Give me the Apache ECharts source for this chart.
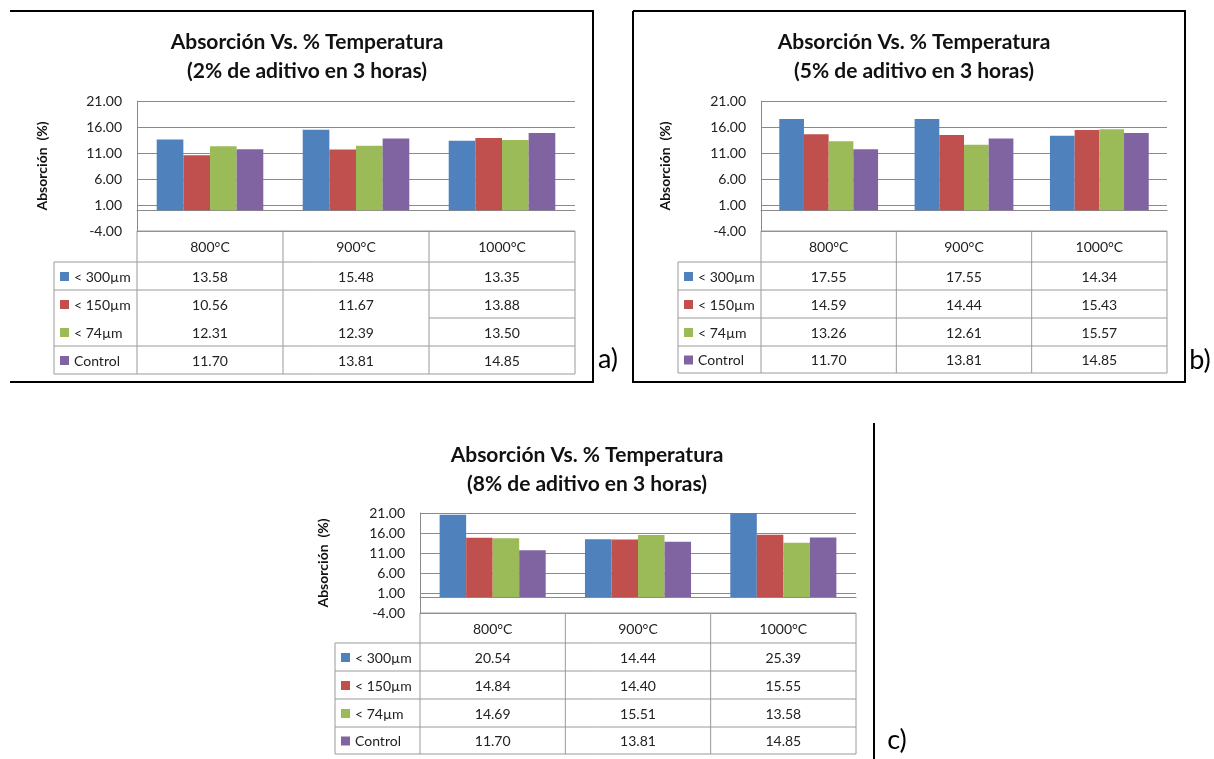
<!DOCTYPE html>
<html><head><meta charset="utf-8">
<script src="https://cdn.jsdelivr.net/npm/echarts@6/dist/echarts.min.js"></script>
<style>html,body{margin:0;padding:0;background:#fff}#c{width:1214px;height:759px}</style>
</head><body><div id="c"></div>
<script>
// ---------- data ----------
const categories = ['800°C', '900°C', '1000°C'];
const seriesNames = ['< 300µm', '< 150µm', '< 74µm', 'Control'];
const chartTitles = [
  'Absorción Vs. % Temperatura\n(2% de aditivo en 3 horas)',
  'Absorción Vs. % Temperatura\n(5% de aditivo en 3 horas)',
  'Absorción Vs. % Temperatura\n(8% de aditivo en 3 horas)'
];
const panelLetters = ['a)', 'b)', 'c)'];
const yAxisName = 'Absorción  (%)';
const yMin = -4, yMax = 21, yStep = 5;

const a300 = [13.58, 15.48, 13.35];
const a150 = [10.56, 11.67, 13.88];
const a74 = [12.31, 12.39, 13.50];
const aCtrl = [11.70, 13.81, 14.85];

const b300 = [17.55, 17.55, 14.34];
const b150 = [14.59, 14.44, 15.43];
const b74 = [13.26, 12.61, 15.57];
const bCtrl = [11.70, 13.81, 14.85];

const c300 = [20.54, 14.44, 25.39];
const c150 = [14.84, 14.40, 15.55];
const c74 = [14.69, 15.51, 13.58];
const cCtrl = [11.70, 13.81, 14.85];

const panelData = [[a300, a150, a74, aCtrl], [b300, b150, b74, bCtrl], [c300, c150, c74, cCtrl]];

// ---------- style / layout ----------
const colors = ['#4F81BD', '#C0504D', '#9BBB59', '#8064A2'];
const FONT = 'Lato';
const GRID_COLOR = '#8a8a8a';
const layout = [
  { grid: { left: 137, top: 101, width: 438, height: 130 }, titleX: 302, titleTop: 23, nameGap: 88,
    legendLeft: 54, rows: [231, 262, 290, 318, 346, 374], letter: [608, 359], skipRowLine: 3 },
  { grid: { left: 761, top: 101, width: 406, height: 130 }, titleX: 909, titleTop: 23, nameGap: 89,
    legendLeft: 678, rows: [231, 262, 290, 318, 346, 373], letter: [1200, 360], skipRowLine: -1 },
  { grid: { left: 420, top: 513, width: 436, height: 100 }, titleX: 582, titleTop: 436, nameGap: 90,
    legendLeft: 335, rows: [613, 643, 671, 699, 727, 754], letter: [897, 740], skipRowLine: -1 }
];

const chart = echarts.init(document.getElementById('c'), null, { renderer: 'canvas' });

const option = {
  animation: false,
  backgroundColor: '#fff',
  title: layout.map((L, i) => ({
    text: chartTitles[i], left: L.titleX, top: L.titleTop, textAlign: 'center',
    textStyle: { fontFamily: FONT, fontSize: 21, fontWeight: 'bold', color: '#111', lineHeight: 29 }
  })),
  grid: layout.map(L => Object.assign({ containLabel: false }, L.grid)),
  xAxis: layout.map((L, i) => ({
    type: 'category', gridIndex: i, data: categories,
    axisLabel: { show: false }, axisTick: { show: false },
    axisLine: { show: true, onZero: true, lineStyle: { color: GRID_COLOR, width: 1 } },
    splitLine: { show: false }
  })),
  yAxis: layout.map((L, i) => ({
    type: 'value', gridIndex: i, min: yMin, max: yMax, interval: yStep,
    name: yAxisName, nameLocation: 'middle', nameGap: L.nameGap,
    nameTextStyle: { fontFamily: FONT, fontSize: 14, fontWeight: 'bold', color: '#111' },
    axisLine: { show: true, lineStyle: { color: GRID_COLOR } },
    axisTick: { show: false },
    axisLabel: { formatter: v => v.toFixed(2), fontFamily: FONT, fontSize: 14, color: '#222', margin: 15 },
    splitLine: { show: true, lineStyle: { color: GRID_COLOR, width: 1 } }
  })),
  series: []
};
panelData.forEach((arrs, i) => {
  arrs.forEach((vals, s) => {
    option.series.push({
      type: 'bar', name: seriesNames[s], xAxisIndex: i, yAxisIndex: i, data: vals,
      itemStyle: { color: colors[s] }, barGap: '0%', barCategoryGap: '27%', clip: true
    });
  });
});
chart.setOption(option);

// ---------- data tables, frames, panel letters ----------
const g = [];
const line = (x1, y1, x2, y2, color, w) => g.push({ type: 'line', shape: { x1, y1, x2, y2 }, style: { stroke: color, lineWidth: w }, silent: true });
const text = (x, y, t, align, size, extra) => g.push({ type: 'text', x, y, style: Object.assign({ text: t, textAlign: align, textVerticalAlign: 'middle', font: `${size}px ${FONT}`, fill: '#222' }, extra || {}), silent: true });
const TBL = '#9a9a9a';

layout.forEach((L, i) => {
  const centers = categories.map(c => chart.convertToPixel({ xAxisIndex: i }, c));
  const colW = centers[1] - centers[0];
  const bounds = [centers[0] - colW / 2, centers[0] + colW / 2, centers[1] + colW / 2, centers[2] + colW / 2];
  const r = L.rows;
  line(bounds[0], r[0], bounds[3], r[0], TBL, 1);
  for (let k = 1; k < r.length; k++) {
    if (k === L.skipRowLine) {
      line(bounds[2], r[k], bounds[3], r[k], TBL, 1);
    } else {
      line(L.legendLeft, r[k], bounds[3], r[k], TBL, 1);
    }
  }
  line(L.legendLeft, r[1], L.legendLeft, r[r.length - 1], TBL, 1);
  bounds.forEach(bx => line(bx, r[0], bx, r[r.length - 1], TBL, 1));
  categories.forEach((c, j) => text(centers[j], (r[0] + r[1]) / 2 + 1, c, 'center', 14));
  panelData[i].forEach((vals, s) => {
    const cy = (r[s + 1] + r[s + 2]) / 2 + 1;
    g.push({ type: 'rect', shape: { x: L.legendLeft + 6, y: cy - 5, width: 9, height: 9 }, style: { fill: colors[s] }, silent: true });
    text(L.legendLeft + 20, cy, seriesNames[s], 'left', 14);
    vals.forEach((v, j) => text(centers[j], cy, v.toFixed(2), 'center', 14));
  });
  text(L.letter[0], L.letter[1], panelLetters[i], 'center', 27, { fill: '#000' });
});

const FR = '#000';
line(10, 11, 594, 11, FR, 2);
line(593, 11, 593, 383, FR, 2);
line(10, 382, 594, 382, FR, 2);
line(633, 11, 1186, 11, FR, 2);
line(633, 11, 633, 383, FR, 2);
line(1185, 11, 1185, 383, FR, 2);
line(633, 382, 1186, 382, FR, 2);
line(874, 423, 874, 759, FR, 2);

chart.setOption({ graphic: { elements: g } });
</script>
</body></html>
